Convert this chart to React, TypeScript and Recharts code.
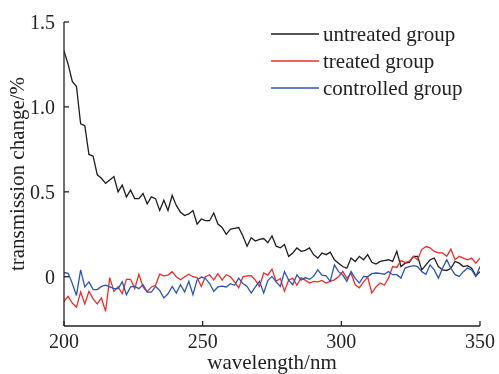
import React from 'react';
import { LineChart, Line, XAxis, YAxis, Legend, Label } from 'recharts';

const FONT = 'Liberation Serif, Times New Roman, serif';

const wavelengths = [
  200, 201.5, 203, 204.5, 206, 207.5, 209, 210.5, 212, 213.5,
  215, 216.5, 218, 219.5, 221, 222.5, 224, 225.5, 227, 228.5,
  230, 231.5, 233, 234.5, 236, 237.5, 239, 240.5, 242, 243.5,
  245, 246.5, 248, 249.5, 251, 252.5, 254, 255.5, 257, 258.5,
  260, 261.5, 263, 264.5, 266, 267.5, 269, 270.5, 272, 273.5,
  275, 276.5, 278, 279.5, 281, 282.5, 284, 285.5, 287, 288.5,
  290, 291.5, 293, 294.5, 296, 297.5, 299, 300.5, 302, 303.5,
  305, 306.5, 308, 309.5, 311, 312.5, 314, 315.5, 317, 318.5,
  320, 321.5, 323, 324.5, 326, 327.5, 329, 330.5, 332, 333.5,
  335, 336.5, 338, 339.5, 341, 342.5, 344, 345.5, 347, 348.5, 350,
];

const untreated = [
  1.33, 1.25, 1.15, 1.12, 0.9, 0.89, 0.72, 0.71, 0.6, 0.58,
  0.55, 0.57, 0.59, 0.5, 0.54, 0.47, 0.51, 0.46, 0.46, 0.49,
  0.43, 0.47, 0.46, 0.39, 0.45, 0.39, 0.48, 0.42, 0.38, 0.36,
  0.37, 0.39, 0.31, 0.34, 0.33, 0.33, 0.375, 0.31, 0.29, 0.25,
  0.28, 0.285, 0.29, 0.24, 0.18, 0.23, 0.21, 0.22, 0.225, 0.2,
  0.24, 0.18, 0.17, 0.19, 0.12, 0.14, 0.17, 0.15, 0.155, 0.17,
  0.13, 0.11, 0.14, 0.13, 0.145, 0.1, 0.08, 0.06, 0.05, 0.11,
  0.09, 0.12, 0.1, 0.13, 0.085, 0.075, 0.09, 0.095, 0.1, 0.09,
  0.15, 0.06, 0.08, 0.085, 0.12, 0.12, 0.04, 0.07, 0.1, 0.11,
  0.06, 0.04, 0.037, 0.05, 0.09, 0.08, 0.06, 0.065, 0.05, 0.005, 0.03,
];

const treated = [
  -0.145, -0.116, -0.155, -0.18, -0.09, -0.16, -0.086, -0.13, -0.16, -0.125,
  -0.204, -0.005, -0.086, -0.06, -0.1, -0.015, -0.015, -0.07, 0.015, -0.06,
  -0.09, -0.06, -0.05, 0.015, 0.005, 0.01, 0.03, 0.0, -0.018, 0.0,
  0.015, 0.0, -0.005, -0.057, 0.0, 0.012, -0.018, 0.018, -0.02, 0.012,
  0.0, -0.03, -0.066, 0.0, 0.005, 0.006, -0.02, -0.057, 0.022, 0.01,
  0.045, -0.027, -0.01, -0.086, -0.02, -0.008, -0.05, -0.005, -0.02, -0.037,
  -0.027, -0.03, -0.022, -0.037, -0.027, -0.018, 0.0, 0.031, -0.01, 0.02,
  -0.047, -0.065, -0.03, -0.002, -0.096, -0.06, -0.037, -0.05, -0.008, 0.06,
  0.055, 0.095, 0.085, 0.09, 0.12, 0.1, 0.16, 0.178, 0.17, 0.149,
  0.14, 0.14, 0.12, 0.163, 0.1, 0.12, 0.11, 0.1, 0.11, 0.08, 0.11,
];

const controlled = [
  0.025, 0.02, -0.04, -0.11, 0.04, -0.06, -0.03, -0.076, -0.075, -0.057,
  -0.05, -0.06, -0.07, -0.07, -0.03, -0.106, -0.06, -0.057, -0.07, -0.047,
  -0.09, -0.09, -0.057, -0.08, -0.125, -0.1, -0.057, -0.096, -0.047, -0.09,
  -0.027, -0.106, -0.018, -0.002, -0.01, -0.04, -0.086, -0.06, -0.055, -0.06,
  -0.041, -0.05, -0.008, -0.04, -0.057, -0.096, -0.06, -0.027, -0.096, -0.022,
  0.002, -0.03, -0.057, 0.031, -0.02, -0.047, 0.012, -0.02, -0.005, -0.015,
  0.002, 0.041, 0.01, 0.005, -0.027, 0.07, 0.03, 0.01, -0.027, 0.031,
  -0.01, -0.037, 0.002, 0.0, 0.018, 0.022, 0.02, 0.015, 0.031, 0.012,
  0.012, -0.008, 0.051, 0.06, 0.065, 0.06, 0.03, 0.015, 0.07, 0.04,
  -0.008, 0.05, 0.1, 0.05, 0.012, 0.002, 0.03, 0.051, 0.04, 0.002, 0.06,
];

const xTicks = [200, 250, 300, 350];
const yTicks = [0, 0.5, 1.0, 1.5];

const seriesKeys = ['untreated', 'treated', 'controlled'];
const seriesNames = ['untreated group', 'treated group', 'controlled group'];
const seriesColors = ['#1c1c1c', '#ee2b2b', '#2b55b3'];

const data = wavelengths.map((w, i) => ({
  w,
  untreated: untreated[i],
  treated: treated[i],
  controlled: controlled[i],
}));

const TEXT = '#222';

const LegendContent = () => (
  <div style={{ fontFamily: FONT }}>
    {seriesNames.map((name, i) => (
      <div key={name} style={{ display: 'flex', alignItems: 'center', height: 27 }}>
        <svg width={48} height={4} style={{ display: 'block' }}>
          <line x1={0} y1={2} x2={48} y2={2} stroke={seriesColors[i]} strokeWidth={1.3} />
        </svg>
        <span style={{ marginLeft: 4, fontSize: 21, lineHeight: '27px', color: TEXT, whiteSpace: 'nowrap', fontFamily: FONT }}>
          {name}
        </span>
      </div>
    ))}
  </div>
);

const XLabel = (props: any) => {
  const vb = props.viewBox || { x: 64, y: 326, width: 416, height: 48 };
  return (
    <text x={vb.x + vb.width / 2} y={vb.y + vb.height - 5} textAnchor="middle" style={{ fontFamily: FONT }} fontSize={21} fill={TEXT}>
      wavelength/nm
    </text>
  );
};

const YLabel = (props: any) => {
  const vb = props.viewBox || { x: 0, y: 22, width: 64, height: 304 };
  const cx = 23.5;
  const cy = vb.y + vb.height / 2;
  return (
    <text x={cx} y={cy} transform={`rotate(-90, ${cx}, ${cy})`} textAnchor="middle" style={{ fontFamily: FONT }} fontSize={21} fill={TEXT}>
      transmission change/%
    </text>
  );
};

export default function App() {
  return (
    <div style={{ position: 'fixed', left: 0, top: 0, width: 499, height: 374, fontFamily: FONT }}>
      <LineChart
        width={499}
        height={374}
        data={data}
        margin={{ top: 22, right: 19, left: 0, bottom: 0 }}
        style={{ fontFamily: FONT }}
      >
        <XAxis
          dataKey="w"
          type="number"
          domain={[200, 350]}
          ticks={xTicks}
          allowDataOverflow
          height={48}
          tickSize={-5}
          tickMargin={13}
          axisLine={{ stroke: TEXT, strokeWidth: 1.3 }}
          tickLine={{ stroke: TEXT, strokeWidth: 1.3 }}
          tick={{ fill: TEXT, fontSize: 20, fontFamily: FONT, style: { fontFamily: FONT } }}
        >
          <Label content={XLabel} />
        </XAxis>
        <YAxis
          type="number"
          domain={[-0.29, 1.5]}
          ticks={yTicks}
          allowDataOverflow
          width={64}
          tickSize={-5}
          tickMargin={14}
          tickFormatter={(v: number) => (v === 0 ? '0' : v.toFixed(1))}
          axisLine={{ stroke: TEXT, strokeWidth: 1.3 }}
          tickLine={{ stroke: TEXT, strokeWidth: 1.3 }}
          tick={{ fill: TEXT, fontSize: 20, fontFamily: FONT, style: { fontFamily: FONT } }}
        >
          <Label content={YLabel} />
        </YAxis>
        <Legend
          layout="vertical"
          align="center"
          verticalAlign="middle"
          content={LegendContent}
          wrapperStyle={{ left: 271, top: 20.5, width: 220, height: 81 }}
        />
        {seriesKeys.map((k, i) => (
          <Line
            key={k}
            dataKey={k}
            name={seriesNames[i]}
            type="linear"
            stroke={seriesColors[i]}
            strokeWidth={1.3}
            dot={false}
            activeDot={false}
            isAnimationActive={false}
          />
        ))}
      </LineChart>
    </div>
  );
}
